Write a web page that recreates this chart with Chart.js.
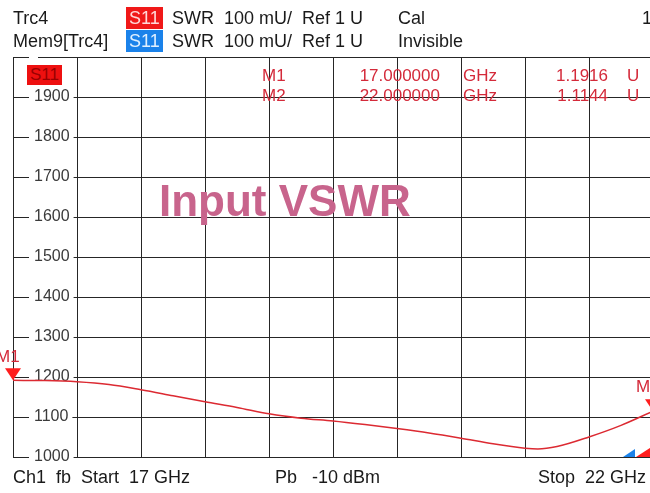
<!DOCTYPE html>
<html>
<head>
<meta charset="utf-8">
<script src="https://cdn.jsdelivr.net/npm/chart.js@4.4.1/dist/chart.umd.min.js"></script>
<style>
  html, body { margin:0; padding:0; width:650px; height:493px; overflow:hidden; background:#fff; }
  #wrap { position:relative; width:650px; height:493px; overflow:hidden; }
  canvas { position:absolute; left:0; top:0; }
  .t { position:absolute; font-family:"Liberation Sans Narrow","Liberation Sans",Arial,sans-serif; font-size:18px; color:#1a1a1a; white-space:pre; line-height:22px; }
  .box { padding:0 3px; }
  .mk { color:#d42a3a; font-size:17px; line-height:20px; }
  .big { position:absolute; font-family:"Liberation Sans",Arial,sans-serif; font-weight:bold; font-size:44px; color:#c8648c; white-space:pre; line-height:44px; }
</style>
</head>
<body>
<div id="wrap">
<canvas id="c" width="660" height="493" style="width:660px;height:493px"></canvas>

<div class="t" style="left:13px;top:7px">Trc4</div>
<div class="t box" style="left:126px;top:7px;background:#f01818;color:#ffd8d8">S11</div>
<div class="t" style="left:172px;top:7px">SWR  100 mU/  Ref 1 U</div>
<div class="t" style="left:398px;top:7px">Cal</div>
<div class="t" style="left:642px;top:7px">1</div>

<div class="t" style="left:13px;top:30px">Mem9[Trc4]</div>
<div class="t box" style="left:126px;top:30px;background:#1a82ea;color:#e0f0ff">S11</div>
<div class="t" style="left:172px;top:30px">SWR  100 mU/  Ref 1 U</div>
<div class="t" style="left:398px;top:30px">Invisible</div>

<div class="t box" style="left:27px;top:65px;background:#ee1010;color:#9a0000;font-size:17px;line-height:20px">S11</div>

<div class="t mk" style="left:262px;top:66px">M1</div>
<div class="t mk" style="left:340px;top:66px;width:100px;text-align:right">17.000000</div>
<div class="t mk" style="left:463px;top:66px">GHz</div>
<div class="t mk" style="left:520px;top:66px;width:88px;text-align:right">1.1916</div>
<div class="t mk" style="left:627px;top:66px">U</div>

<div class="t mk" style="left:262px;top:86px">M2</div>
<div class="t mk" style="left:340px;top:86px;width:100px;text-align:right">22.000000</div>
<div class="t mk" style="left:463px;top:86px">GHz</div>
<div class="t mk" style="left:520px;top:86px;width:88px;text-align:right">1.1144</div>
<div class="t mk" style="left:627px;top:86px">U</div>

<div class="big" style="left:159px;top:179px">Input VSWR</div>

<div class="t" style="left:13px;top:466px">Ch1  fb  Start  17 GHz</div>
<div class="t" style="left:275px;top:466px">Pb   -10 dBm</div>
<div class="t" style="left:538px;top:466px">Stop  22 GHz</div>
</div>

<script>
// ---- data ----
const freqGHz   = [17.00, 17.25, 17.50, 17.75, 18.00, 18.25, 18.50, 18.75, 19.00, 19.25, 19.50, 19.75, 20.00, 20.25, 20.50, 20.75, 21.00, 21.10, 21.25, 21.50, 21.75, 22.00];
const swrMilliU = [1191.6, 1191, 1188, 1181, 1168, 1153, 1138, 1124, 1108, 1097, 1090, 1081, 1071, 1060, 1047, 1033, 1022, 1020, 1026, 1050, 1079, 1114.4];
const yTickValues = [1000, 1100, 1200, 1300, 1400, 1500, 1600, 1700, 1800, 1900];
const markerNames = ['M1', 'M2'];
const markerFreq  = [17.0, 22.0];
const markerValue = [1191.6, 1114.4];

const points = freqGHz.map((f, i) => ({ x: f, y: swrMilliU[i] }));

const markerPlugin = {
  id: 'markers',
  afterDatasetsDraw(chart) {
    const { ctx, scales: { x, y }, chartArea } = chart;
    ctx.save();
    markerNames.forEach((name, i) => {
      const px = x.getPixelForValue(markerFreq[i]);
      const py = y.getPixelForValue(markerValue[i]);
      ctx.fillStyle = '#ff1e1e';
      ctx.beginPath();
      ctx.moveTo(px, py);
      ctx.lineTo(px - 8, py - 12);
      ctx.lineTo(px + 8, py - 12);
      ctx.closePath();
      ctx.fill();
      ctx.fillStyle = '#d42a3a';
      ctx.font = '17px "Liberation Sans Narrow","Liberation Sans",Arial,sans-serif';
      ctx.textAlign = 'left';
      ctx.textBaseline = 'bottom';
      ctx.fillText(name, px - 17, py - 15);
    });
    // stimulus range indicators at bottom right
    const r = chartArea.right, b = chartArea.bottom;
    ctx.fillStyle = '#1a82ea';
    ctx.beginPath();
    ctx.moveTo(r - 30, b); ctx.lineTo(r - 18, b); ctx.lineTo(r - 18, b - 8); ctx.closePath(); ctx.fill();
    ctx.fillStyle = '#ff1e1e';
    ctx.beginPath();
    ctx.moveTo(r - 17, b); ctx.lineTo(r, b); ctx.lineTo(r, b - 11); ctx.closePath(); ctx.fill();
    ctx.restore();
  }
};

new Chart(document.getElementById('c'), {
  type: 'line',
  data: {
    datasets: [{
      data: points,
      borderColor: '#dc2a32',
      borderWidth: 1.5,
      pointRadius: 0,
      cubicInterpolationMode: 'monotone',
      fill: false
    }]
  },
  options: {
    responsive: false,
    animation: false,
    events: [],
    layout: { padding: { left: 13, top: 57, right: 7, bottom: 36 } },
    plugins: { legend: { display: false }, tooltip: { enabled: false } },
    scales: {
      x: {
        type: 'linear', min: 17, max: 22,
        afterFit: s => { s.height = 0; },
        ticks: { display: false, stepSize: 0.5 },
        grid: { color: '#262626', lineWidth: 1, drawTicks: false },
        border: { display: true, color: '#262626', width: 1 }
      },
      y: {
        type: 'linear', min: 1000, max: 2000,
        afterFit: s => { s.width = 0; },
        afterBuildTicks: s => { s.ticks = [...yTickValues, 2000].map(v => ({ value: v })); },
        ticks: {
          mirror: true,
          padding: 21,
          color: '#3a3a3a',
          font: { family: '"Liberation Sans Narrow","Liberation Sans",Arial,sans-serif', size: 16 },
          callback: v => yTickValues.includes(v) ? String(v) : '',
          showLabelBackdrop: true,
          backdropColor: '#ffffff',
          backdropPadding: { left: 5, right: 4, top: 0, bottom: 0 }
        },
        grid: { color: '#262626', lineWidth: 1, drawTicks: false },
        border: { display: true, color: '#262626', width: 1 }
      }
    }
  },
  plugins: [markerPlugin]
});
</script>
</body>
</html>
